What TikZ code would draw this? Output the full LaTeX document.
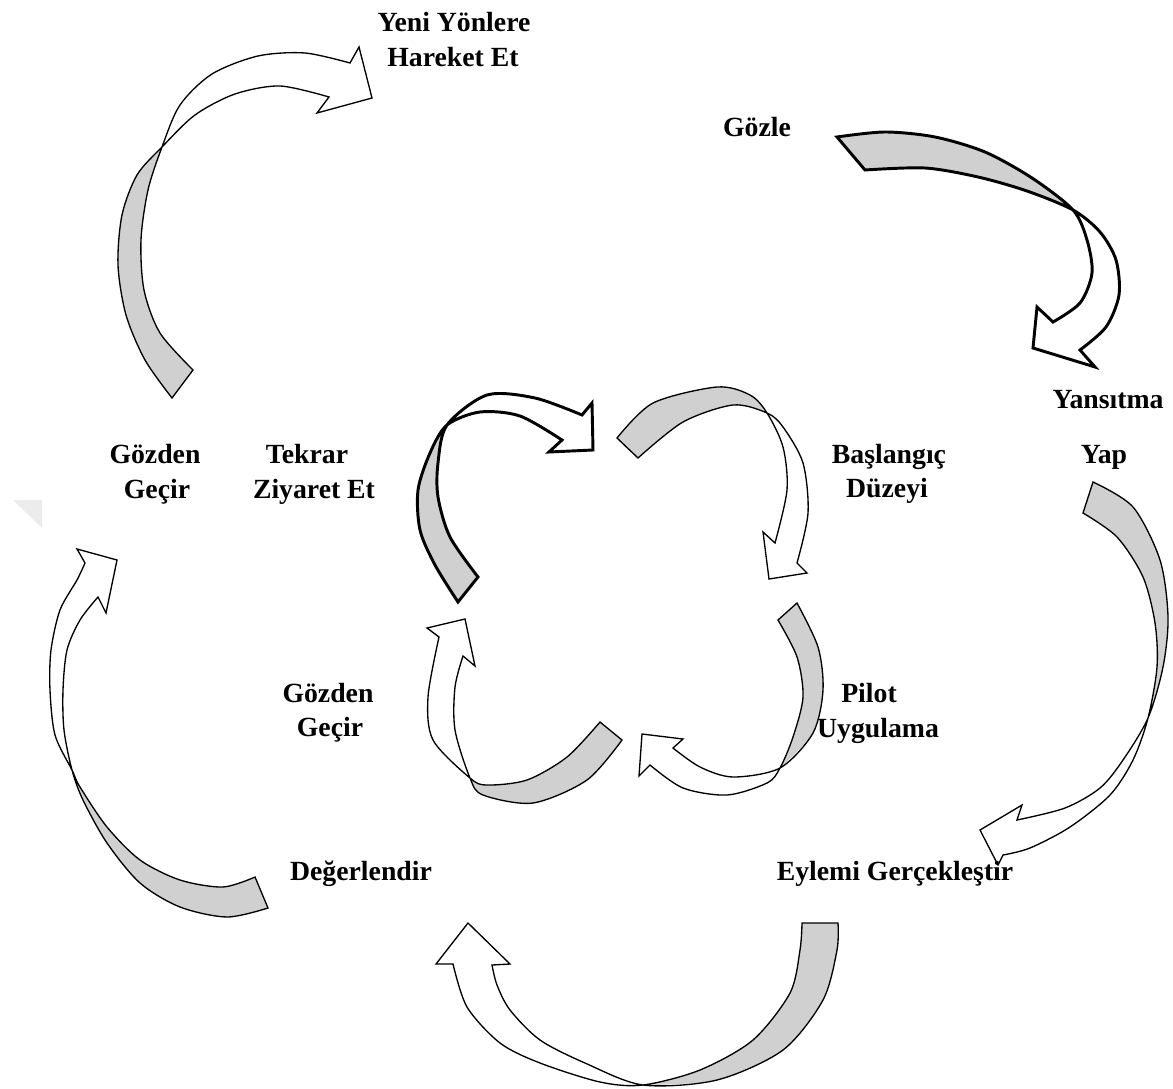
\documentclass[tikz,border=0pt]{standalone}
\usepackage{fontspec}
\setmainfont{Liberation Serif}
\definecolor{band}{RGB}{208,208,208}
\definecolor{wm}{RGB}{236,236,236}
\tikzset{
  thinarrow/.style={draw=black,line width=1pt},
  thickarrow/.style={draw=black,line width=2.2pt},
  lbl/.style={font=\bfseries\fontsize{20.8}{25}\selectfont,inner sep=0pt,anchor=base}
}
% #1 style, #2 edge A tail part, #3 crossing, #4 edge A head part,
% #5 arrow head, #6 edge B head part, #7 edge B tail part
\newcommand\carrow[7]{%
  \fill[white] plot[smooth] coordinates {#2 #3 #4} -- #5 -- plot[smooth] coordinates {#6 #3 #7} -- cycle;
  \begin{scope}
    \clip plot[smooth] coordinates {#2 #3 #4} -- #5 -- plot[smooth] coordinates {#6 #3 #7} -- cycle;
    \fill[band] plot[smooth] coordinates {#2 #3} -- plot[smooth] coordinates {#3 #7} -- cycle;
  \end{scope}
  \draw[#1] plot[smooth] coordinates {#2 #3 #4} -- #5 -- plot[smooth] coordinates {#6 #3 #7} -- cycle;
}
\begin{document}
\begin{tikzpicture}[x=0.75pt,y=-0.75pt]
\useasboundingbox (0,0) rectangle (1173,1088);
\fill[white] (0,0) rectangle (1173,1088);
\fill[wm] (13,500) -- (42,500) -- (42,528) -- cycle;

% outer cycle
\carrow{thinarrow}
{(172,398) (145,360) (126,315) (118,265) (122,215) (137,175)}
{(162,147)}
{(195,115) (235,94) (280,86) (329,97)}
{(317,113) -- (372,98) -- (359,47)}
{(350,63) (305,53) (258,56) (212,74) (180,105)}
{(148,190) (141,240) (144,290) (160,333) (193,370)}

\carrow{thickarrow}
{(837,137) (885,132) (935,137) (985,152) (1032,178)}
{(1073,210)}
{(1087,240) (1092,273) (1080,303) (1053,322)}
{(1037,307) -- (1033,348) -- (1095,367)}
{(1080,350) (1106,327) (1119,295) (1116,260) (1100,232)}
{(1027,191) (978,177) (925,168) (865,170)}

\carrow{thinarrow}
{(1093,482) (1133,507) (1160,560) (1168,617) (1163,667)}
{(1148,718)}
{(1123,760) (1100,788) (1065,808) (1017,820)}
{(1022,805) -- (980,830) -- (998,865)}
{(1003,855) (1030,848) (1070,827) (1110,795) (1133,760)}
{(1157,667) (1155,623) (1143,577) (1117,537) (1083,513)}

\carrow{thinarrow}
{(838,923) (837,950) (823,1000) (783,1050) (717,1080)}
{(643,1085)}
{(585,1063) (540,1040) (510,1010) (497,985) (492,965)}
{(510,964) -- (468,923) -- (436,964)}
{(453,964) (467,1007) (500,1043) (540,1063) (600,1082)}
{(700,1070) (753,1040) (790,993) (800,950) (802,923)}

\carrow{thinarrow}
{(268,908) (227,917) (180,907) (140,883) (107,843) (83,800)}
{(72,770)}
{(64,730) (63,690) (67,650) (80,620) (98,597)}
{(106,613) -- (117,560) -- (77,549)}
{(85,563) (77,580) (60,610) (51,650) (50,690) (55,735)}
{(80,787) (107,827) (140,860) (180,880) (223,887) (255,877)}

% inner cycle
\carrow{thickarrow}
{(458,602) (435,565) (420,530) (418,490) (430,453)}
{(447,425)}
{(480,412) (520,416) (562,440)}
{(549,452) -- (593,450) -- (592,403)}
{(582,415) (535,398) (487,395)}
{(438,463) (438,497) (450,537) (478,577)}

\carrow{thinarrow}
{(617,438) (653,403) (717,387) (750,395)}
{(767,413)}
{(783,447) (787,490) (775,543)}
{(763,532) -- (769,579) -- (807,573)}
{(797,563) (808,513) (803,463) (783,427)}
{(733,405) (683,422) (638,458)}

\carrow{thinarrow}
{(797,603) (818,647) (823,690) (813,733)}
{(780,768)}
{(733,777) (700,767) (673,748)}
{(683,739) -- (642,734) -- (639,776)}
{(650,765) (683,788) (727,795) (767,783)}
{(793,737) (803,697) (797,657) (778,620)}

\carrow{thinarrow}
{(622,740) (587,780) (533,803) (483,795)}
{(470,778)}
{(455,730) (455,687) (463,656)}
{(475,666) -- (465,619) -- (427,628)}
{(439,637) (428,697) (433,740)}
{(487,785) (527,780) (567,757) (600,722)}

% labels
\node[lbl] (yeni) at (454,32) {Yeni Yönlere};
\node[lbl] (hareket) at (453,67) {Hareket Et};
\node[lbl] (gozle) at (757,136) {Gözle};
\node[lbl] (yansitma) at (1108,408) {Yansıtma};
\node[lbl] (yap) at (1104,463) {Yap};
\node[lbl] (baslangic) at (889,463) {Başlangıç};
\node[lbl] (duzeyi) at (887,497) {Düzeyi};
\node[lbl] (gozdenA) at (155,463) {Gözden};
\node[lbl] (gecirA) at (157,498) {Geçir};
\node[lbl] (tekrar) at (307,463) {Tekrar};
\node[lbl] (ziyaret) at (314,498) {Ziyaret Et};
\node[lbl] (gozdenB) at (328,702) {Gözden};
\node[lbl] (gecirB) at (330,736) {Geçir};
\node[lbl] (pilot) at (869,702) {Pilot};
\node[lbl] (uygulama) at (878,737) {Uygulama};
\node[lbl] (degerlendir) at (361,880) {Değerlendir};
\node[lbl] (eylemi) at (895,880) {Eylemi Gerçekleştir};
\end{tikzpicture}
\end{document}
